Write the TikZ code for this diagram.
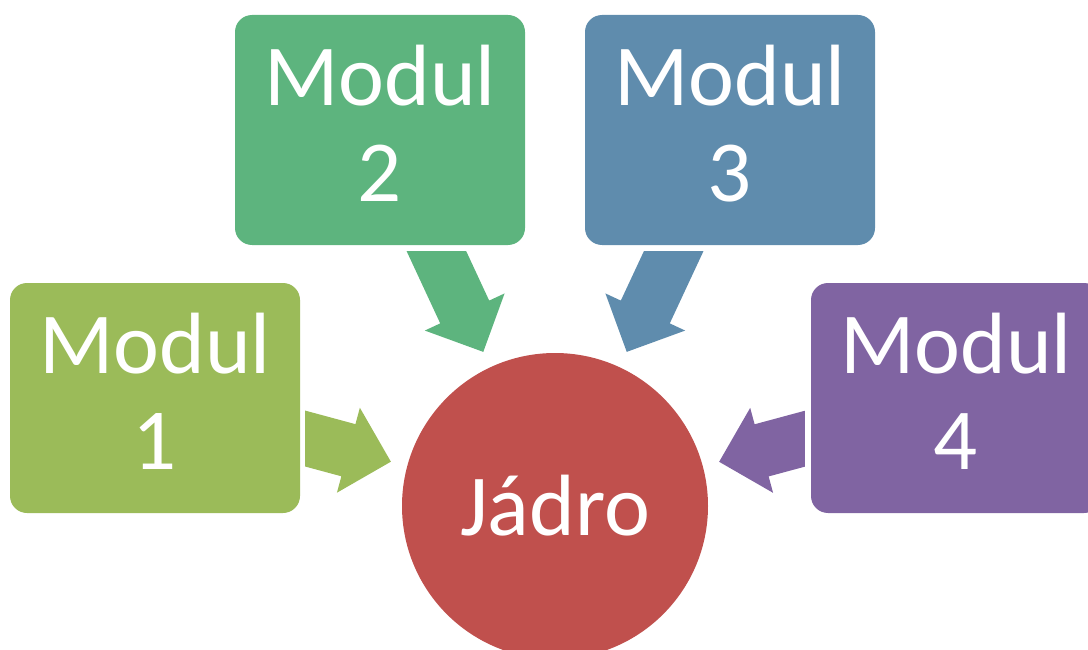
\documentclass[tikz,border=0pt]{standalone}
\usepackage{fontspec}
\setmainfont{Carlito}
\usetikzlibrary{calc}

\definecolor{modOne}{HTML}{9BBB59}
\definecolor{modTwo}{HTML}{5DB47E}
\definecolor{modThree}{HTML}{5F8CAD}
\definecolor{modFour}{HTML}{8064A2}
\definecolor{coreRed}{HTML}{C0504D}

\tikzset{
  modbox/.style={rectangle, rounded corners=17pt, minimum width=290pt,
    minimum height=230pt, inner sep=0pt, text=white, align=center,
    font=\fontsize{87}{96}\selectfont},
  corenode/.style={circle, minimum size=306pt, inner sep=0pt, text=white,
    font=\fontsize{87}{96}\selectfont},
}

% Block arrow from a module box towards the core circle.
% #1 source node, #2 fill colour, #3/#4 two points of the line that cuts the tail
\newcommand\blockarrow[4]{%
  \coordinate (tip)  at ($(core.center)!170pt!(#1.center)$);
  \coordinate (base) at ($(core.center)!214pt!(#1.center)$);
  \coordinate (far)  at ($(core.center)!400pt!(#1.center)$);
  \coordinate (sa)  at ($(base)!27pt!90:(tip)$);
  \coordinate (sa2) at ($(far)!27pt!90:(tip)$);
  \coordinate (sb)  at ($(base)!27pt!-90:(tip)$);
  \coordinate (sb2) at ($(far)!27pt!-90:(tip)$);
  \coordinate (ha)  at ($(base)!44pt!90:(tip)$);
  \coordinate (hb)  at ($(base)!44pt!-90:(tip)$);
  \coordinate (ta)  at (intersection of sa--sa2 and #3--#4);
  \coordinate (tb)  at (intersection of sb--sb2 and #3--#4);
  \fill[#2] (ta) -- (sa) -- (ha) -- (tip) -- (hb) -- (sb) -- (tb) -- cycle;
}

\begin{document}
\begin{tikzpicture}[x=1pt, y=-1pt]
  \useasboundingbox (0,0) rectangle (1088,650);
  \clip (0,0) rectangle (1088,650);

  % module boxes and the core
  \node[modbox, fill=modOne]   (m1) at (155,398) {Modul\\1\rule[-14pt]{0pt}{1pt}};
  \node[modbox, fill=modTwo]   (m2) at (380,130) {Modul\\2\rule[-14pt]{0pt}{1pt}};
  \node[modbox, fill=modThree] (m3) at (730,130) {Modul\\3\rule[-14pt]{0pt}{1pt}};
  \node[modbox, fill=modFour]  (m4) at (956,398) {Modul\\4\rule[-14pt]{0pt}{1pt}};
  \node[corenode, fill=coreRed] (core) at (555,506) {Jádro};

  % lines where the arrow tails are cut
  \coordinate (c1a) at ($(m1.north east)+(5pt,0)$);
  \coordinate (c1b) at ($(m1.south east)+(5pt,0)$);
  \coordinate (c2a) at ($(m2.south west)+(0,-6pt)$);
  \coordinate (c2b) at ($(m2.south east)+(0,-6pt)$);
  \coordinate (c3a) at ($(m3.south west)+(0,-6pt)$);
  \coordinate (c3b) at ($(m3.south east)+(0,-6pt)$);
  \coordinate (c4a) at ($(m4.north west)+(-6pt,0)$);
  \coordinate (c4b) at ($(m4.south west)+(-6pt,0)$);

  % arrows into the core
  \blockarrow{m1}{modOne}{c1a}{c1b}
  \blockarrow{m2}{modTwo}{c2a}{c2b}
  \blockarrow{m3}{modThree}{c3a}{c3b}
  \blockarrow{m4}{modFour}{c4a}{c4b}
\end{tikzpicture}
\end{document}
